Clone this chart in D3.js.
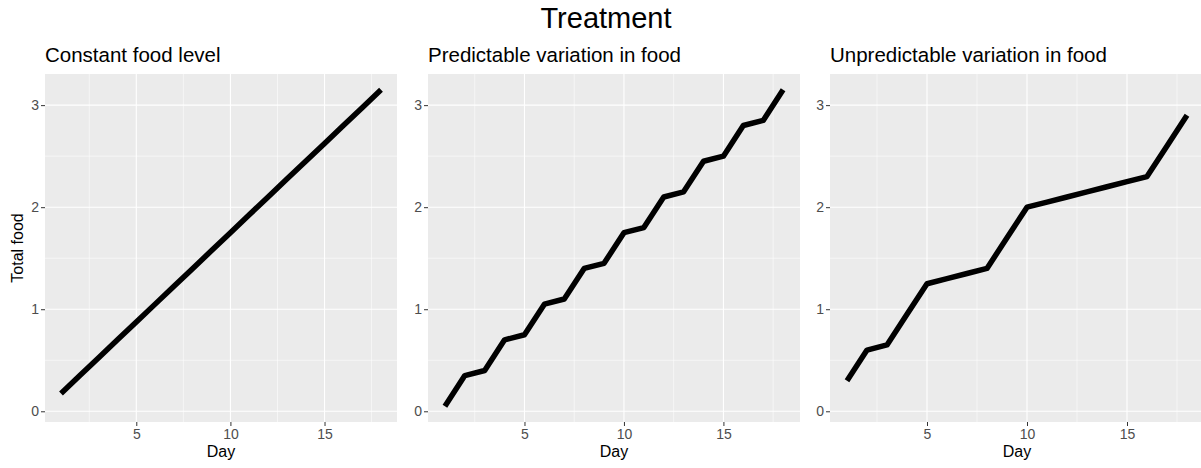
<!DOCTYPE html>
<html>
<head>
<meta charset="utf-8">
<script src="https://cdn.jsdelivr.net/npm/d3@7"></script>
<style>
body { margin: 0; background: #fff; }
text { font-family: Arial, "Liberation Sans", sans-serif; }
</style>
</head>
<body>
<script>
var width = 1201;
var height = 468;

// data
var days = [1, 2, 3, 4, 5, 6, 7, 8, 9, 10, 11, 12, 13, 14, 15, 16, 17, 18];
var constant_food = [0.175, 0.35, 0.525, 0.7, 0.875, 1.05, 1.225, 1.4, 1.575, 1.75, 1.925, 2.1, 2.275, 2.45, 2.625, 2.8, 2.975, 3.15];
var predictable_food = [0.05, 0.35, 0.4, 0.7, 0.75, 1.05, 1.1, 1.4, 1.45, 1.75, 1.8, 2.1, 2.15, 2.45, 2.5, 2.8, 2.85, 3.15];
var unpredictable_food = [0.3, 0.6, 0.65, 0.95, 1.25, 1.3, 1.35, 1.4, 1.7, 2.0, 2.05, 2.1, 2.15, 2.2, 2.25, 2.3, 2.6, 2.9];
var panel_titles = ["Constant food level", "Predictable variation in food", "Unpredictable variation in food"];
var x_ticks = [5, 10, 15];
var x_minor = [2.5, 7.5, 12.5, 17.5];
var y_ticks = [0, 1, 2, 3];
var y_minor = [0.5, 1.5, 2.5];

var series = [constant_food, predictable_food, unpredictable_food];

// panel layout
var panel_left = [45, 428, 830];
var panel_right = [397, 800, 1204];
var panel_top = 74;
var panel_bottom = 422;
var tick_len = 4;

var svg = d3.select("body")
    .append("svg")
    .attr("width", width)
    .attr("height", height);

svg.append("text")
    .attr("x", 606)
    .attr("y", 28)
    .attr("text-anchor", "middle")
    .attr("font-size", "29px")
    .attr("fill", "#000")
    .text("Treatment");

var y = d3.scaleLinear()
    .domain([-0.105, 3.305])
    .range([panel_bottom, panel_top]);

series.forEach(function(vals, i) {
    var x = d3.scaleLinear()
        .domain([0.15, 18.85])
        .range([panel_left[i], panel_right[i]]);

    var g = svg.append("g");

    g.append("text")
        .attr("x", panel_left[i])
        .attr("y", 62)
        .attr("font-size", "20.5px")
        .attr("fill", "#000")
        .text(panel_titles[i]);

    g.append("rect")
        .attr("x", panel_left[i])
        .attr("y", panel_top)
        .attr("width", panel_right[i] - panel_left[i])
        .attr("height", panel_bottom - panel_top)
        .attr("fill", "#EBEBEB");

    g.selectAll(".xminor")
        .data(x_minor)
        .enter()
        .append("line")
        .attr("x1", function(d) { return x(d); })
        .attr("x2", function(d) { return x(d); })
        .attr("y1", panel_top)
        .attr("y2", panel_bottom)
        .attr("stroke", "#fff")
        .attr("stroke-width", 0.55);

    g.selectAll(".yminor")
        .data(y_minor)
        .enter()
        .append("line")
        .attr("x1", panel_left[i])
        .attr("x2", panel_right[i])
        .attr("y1", function(d) { return y(d); })
        .attr("y2", function(d) { return y(d); })
        .attr("stroke", "#fff")
        .attr("stroke-width", 0.55);

    g.selectAll(".xmajor")
        .data(x_ticks)
        .enter()
        .append("line")
        .attr("x1", function(d) { return x(d); })
        .attr("x2", function(d) { return x(d); })
        .attr("y1", panel_top)
        .attr("y2", panel_bottom)
        .attr("stroke", "#fff")
        .attr("stroke-width", 1.1);

    g.selectAll(".ymajor")
        .data(y_ticks)
        .enter()
        .append("line")
        .attr("x1", panel_left[i])
        .attr("x2", panel_right[i])
        .attr("y1", function(d) { return y(d); })
        .attr("y2", function(d) { return y(d); })
        .attr("stroke", "#fff")
        .attr("stroke-width", 1.1);

    // axes
    var x_axis = d3.axisBottom(x)
        .tickValues(x_ticks)
        .tickFormat(d3.format("d"))
        .tickSize(tick_len)
        .tickPadding(3);
    var y_axis = d3.axisLeft(y)
        .tickValues(y_ticks)
        .tickFormat(d3.format("d"))
        .tickSize(tick_len)
        .tickPadding(2);

    var gx = g.append("g")
        .attr("transform", "translate(0," + panel_bottom + ")")
        .call(x_axis);
    var gy = g.append("g")
        .attr("transform", "translate(" + panel_left[i] + ",0)")
        .call(y_axis);

    [gx, gy].forEach(function(a) {
        a.select(".domain").remove();
        a.selectAll(".tick line").attr("stroke", "#333").attr("stroke-width", 1);
        a.selectAll(".tick text")
            .attr("font-size", "14px")
            .attr("font-family", "Arial, 'Liberation Sans', sans-serif")
            .attr("fill", "#4D4D4D");
    });

    g.append("text")
        .attr("x", (x(0.15) + x(18.85)) / 2)
        .attr("y", 457)
        .attr("text-anchor", "middle")
        .attr("font-size", "16px")
        .attr("fill", "#000")
        .text("Day");

    var line = d3.line()
        .x(function(d, j) { return x(days[j]); })
        .y(function(d) { return y(d); });

    g.append("path")
        .datum(vals)
        .attr("d", line)
        .attr("fill", "none")
        .attr("stroke", "#000")
        .attr("stroke-width", 5.5)
        .attr("stroke-linejoin", "round")
        .attr("stroke-linecap", "butt");
});

svg.append("text")
    .attr("transform", "translate(23," + (panel_top + panel_bottom) / 2 + ") rotate(-90)")
    .attr("text-anchor", "middle")
    .attr("font-size", "16px")
    .attr("fill", "#000")
    .text("Total food");
</script>
</body>
</html>
